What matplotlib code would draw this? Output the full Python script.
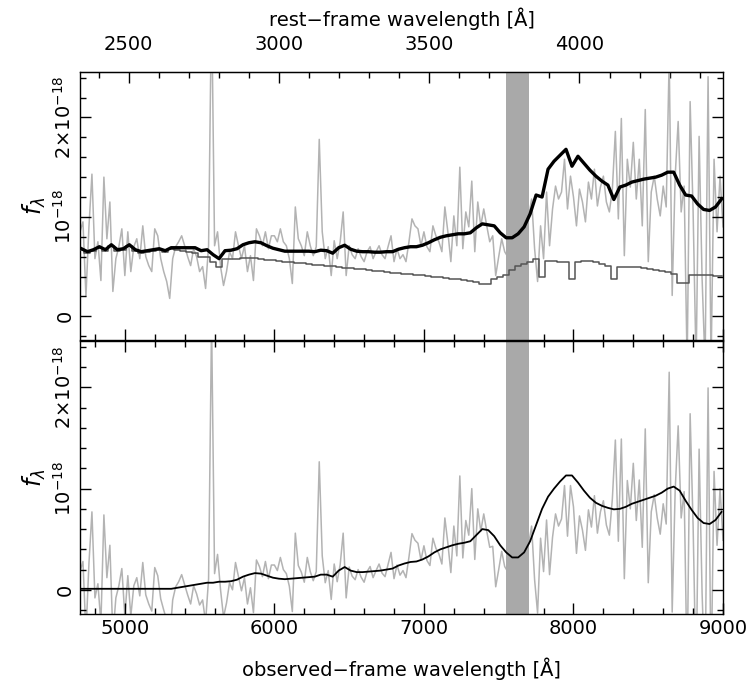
import numpy as np
import matplotlib
matplotlib.use("Agg")
import matplotlib.pyplot as plt
from matplotlib.ticker import MultipleLocator

# redshift factor (1+z) and masked telluric band
one_plus_z = 2.01
telluric = (7550, 7700)

# observed spectrum, units of 1e-18, sampled every 20 A
wave = np.arange(4700, 9001, 20)
flux = [
    0.85, 0.95, 0.20, 0.90, 1.43, 0.58, 0.75, 0.36, 1.40, 0.78,
    1.15, 0.25, 0.58, 0.70, 0.88, 0.41, 0.85, 0.45, 0.70, 0.78,
    0.58, 0.91, 0.60, 0.51, 0.45, 0.88, 0.81, 0.58, 0.45, 0.35,
    0.18, 0.58, 0.70, 0.75, 0.81, 0.71, 0.60, 0.51, 0.68, 0.60,
    0.45, 0.50, 0.28, 0.71, 3.20, 0.71, 0.85, 0.50, 0.31, 0.45,
    0.65, 0.58, 0.85, 0.71, 0.58, 0.71, 0.45, 0.61, 0.36, 0.88,
    0.81, 0.71, 0.85, 0.68, 0.81, 0.81, 0.75, 0.88, 0.75, 0.71,
    0.58, 0.33, 1.10, 0.78, 0.71, 0.61, 0.85, 0.71, 0.61, 0.70,
    1.78, 0.85, 0.58, 0.70, 0.41, 0.76, 0.58, 0.75, 1.05, 0.41,
    0.71, 0.62, 0.58, 0.68, 0.60, 0.55, 0.65, 0.70, 0.58, 0.65,
    0.71, 0.62, 0.58, 0.70, 0.81, 0.55, 0.68, 0.58, 0.62, 0.55,
    0.75, 0.98, 0.91, 0.88, 0.71, 0.85, 0.70, 0.65, 0.91, 0.81,
    0.75, 0.65, 1.10, 0.85, 0.55, 1.01, 0.71, 1.50, 0.68, 1.05,
    0.90, 1.36, 0.65, 1.15, 0.91, 1.08, 0.91, 0.75, 0.81, 0.41,
    0.60, 0.78, 0.65, 0.60, 0.70, 0.80, 0.80, 0.80, 0.90, 0.90,
    1.00, 1.18, 0.68, 0.35, 0.91, 0.58, 1.25, 0.71, 1.08, 1.31,
    1.18, 1.25, 1.58, 1.08, 1.41, 1.20, 0.91, 1.28, 1.15, 0.95,
    1.35, 1.18, 1.48, 1.11, 1.30, 1.41, 1.15, 1.05, 1.28, 1.86,
    0.98, 1.99, 0.61, 1.58, 1.30, 1.75, 1.18, 1.58, 0.91, 2.08,
    0.55, 1.25, 1.41, 1.18, 1.01, 1.31, 1.10, 2.60, 0.21, 1.41,
    1.96, 1.05, 1.31, -0.50, 2.16, 1.05, -0.50, 1.81, 0.38, -0.50,
    2.41, -0.50, 1.58, 0.85, 1.41, 0.90,
]

# model components on 40 A bins (two spectrum samples per bin)
model_wave = np.arange(4710, 9000, 40)
stellar = [
    0.67, 0.64, 0.66, 0.69, 0.66, 0.71, 0.66, 0.67, 0.71, 0.66,
    0.64, 0.65, 0.66, 0.67, 0.65, 0.68, 0.67, 0.66, 0.65, 0.64,
    0.60, 0.60, 0.55, 0.50, 0.58, 0.58, 0.58, 0.59, 0.59, 0.585,
    0.58, 0.57, 0.565, 0.56, 0.55, 0.545, 0.54, 0.535, 0.53, 0.52,
    0.515, 0.51, 0.505, 0.50, 0.49, 0.485, 0.48, 0.475, 0.47, 0.46,
    0.455, 0.45, 0.44, 0.435, 0.43, 0.425, 0.42, 0.415, 0.41, 0.40,
    0.395, 0.39, 0.38, 0.375, 0.365, 0.36, 0.35, 0.33, 0.33, 0.38,
    0.40, 0.42, 0.47, 0.51, 0.53, 0.55, 0.58, 0.40, 0.56, 0.56,
    0.55, 0.55, 0.38, 0.55, 0.56, 0.56, 0.55, 0.53, 0.51, 0.38,
    0.50, 0.50, 0.50, 0.495, 0.49, 0.48, 0.47, 0.46, 0.45, 0.43,
    0.34, 0.34, 0.42, 0.42, 0.415, 0.415, 0.41, 0.41,
]
nonstellar = [
    0.01, 0.01, 0.01, 0.01, 0.01, 0.01, 0.01, 0.01, 0.01, 0.01,
    0.01, 0.01, 0.01, 0.01, 0.01, 0.01, 0.02, 0.03, 0.04, 0.05,
    0.06, 0.07, 0.07, 0.08, 0.08, 0.085, 0.10, 0.13, 0.15, 0.165,
    0.16, 0.14, 0.12, 0.11, 0.105, 0.11, 0.115, 0.12, 0.125, 0.13,
    0.15, 0.15, 0.13, 0.19, 0.225, 0.19, 0.175, 0.175, 0.18, 0.185,
    0.19, 0.20, 0.21, 0.24, 0.26, 0.275, 0.28, 0.30, 0.33, 0.37,
    0.40, 0.42, 0.44, 0.455, 0.465, 0.48, 0.54, 0.60, 0.59, 0.53,
    0.44, 0.37, 0.32, 0.32, 0.37, 0.48, 0.64, 0.80, 0.92, 1.00,
    1.07, 1.13, 1.13, 1.06, 0.98, 0.91, 0.86, 0.83, 0.81, 0.795,
    0.80, 0.82, 0.85, 0.87, 0.89, 0.91, 0.93, 0.96, 1.00, 1.02,
    0.98, 0.88, 0.79, 0.71, 0.66, 0.65, 0.69, 0.77,
]

flux = np.array(flux)
stellar = np.array(stellar)
nonstellar = np.array(nonstellar)
total = stellar + nonstellar
residual = flux - np.repeat(stellar, 2)

plt.rcParams['font.family'] = ['DejaVu Sans']
plt.rcParams['font.size'] = 14
plt.rcParams['mathtext.fontset'] = 'dejavusans'

fig = plt.figure(figsize=(7.53, 6.9), dpi=100)
ax1 = fig.add_axes([0.1062, 0.507, 0.854, 0.389])
ax2 = fig.add_axes([0.1062, 0.110, 0.854, 0.396])

spec_grey = '#b3b3b3'
band_grey = '#a9a9a9'

ax1.plot(wave, flux, color=spec_grey, lw=1.1, zorder=1)
ax1.axvspan(*telluric, color=band_grey, lw=0, zorder=2)
ax1.plot(model_wave, stellar, color='#555555', lw=1.1, drawstyle='steps-mid', zorder=3)
ax1.plot(model_wave, total, color='black', lw=2.4, zorder=4)

ax2.plot(wave, residual, color=spec_grey, lw=1.1, zorder=1)
ax2.axvspan(*telluric, color=band_grey, lw=0, zorder=2)
ax2.plot(model_wave, nonstellar, color='black', lw=1.3, zorder=4)

ylabels = ['0', r'$10^{-18}$', r'$2{\times}10^{-18}$']
for ax in (ax1, ax2):
    ax.set_xlim(4700, 9000)
    ax.set_ylim(-0.24, 2.46)
    ax.xaxis.set_major_locator(MultipleLocator(1000))
    ax.xaxis.set_minor_locator(MultipleLocator(200))
    ax.set_yticks([0, 1, 2])
    ax.set_yticklabels(ylabels, rotation=90, va='center')
    ax.yaxis.set_minor_locator(MultipleLocator(0.2))
    ax.tick_params(which='both', direction='in', right=True, width=1)
    ax.tick_params(which='major', length=8)
    ax.tick_params(which='minor', length=4)
    ax.set_ylabel(r'$f_\lambda$', fontsize=17, labelpad=4)
    for s in ax.spines.values():
        s.set_linewidth(1)

ax1.tick_params(which='both', top=False, labelbottom=False)
ax2.tick_params(which='both', top=True)
ax2.set_xlabel('observed\u2212frame wavelength [\u00c5]', labelpad=14)

rest = ax1.secondary_xaxis('top', functions=(lambda x: x / one_plus_z,
                                              lambda x: x * one_plus_z))
rest.set_xticks([2500, 3000, 3500, 4000])
rest.xaxis.set_minor_locator(MultipleLocator(100))
rest.tick_params(which='both', direction='in', width=1, pad=13)
rest.tick_params(which='major', length=8)
rest.tick_params(which='minor', length=4)
rest.set_xlabel('rest\u2212frame wavelength [\u00c5]', labelpad=6)

fig.savefig('out.png', dpi=100)
